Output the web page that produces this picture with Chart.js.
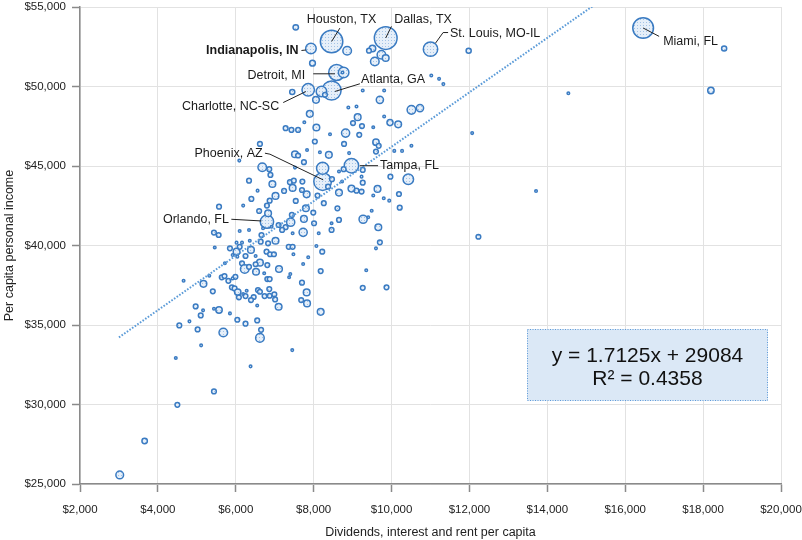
<!DOCTYPE html>
<html><head><meta charset="utf-8">
<script src="https://cdn.jsdelivr.net/npm/chart.js@4.4.1/dist/chart.umd.min.js"></script>
<style>html,body{margin:0;padding:0;background:#fff;}canvas{display:block;}</style>
</head><body>
<canvas id="c" width="802" height="540"></canvas>
<script>
const FONT = "'Liberation Sans', Arial, Helvetica, sans-serif";

// Labelled metros (first entries of the arrays below)
const metroNames = ['Houston, TX','Dallas, TX','Miami, FL','Atlanta, GA','Phoenix, AZ','Detroit, MI',
  'Tampa, FL','St. Louis, MO-IL','Orlando, FL','Charlotte, NC-SC','Indianapolis, IN'];

// Dividends, interest and rent per capita ($)
const dividendsPerCapita = [
  8460,9850,16460,8460,8230,8590,8970,11000,6800,7860,7930,
  7540,8860,7970,9510,9420,9740,9850,9570,11980,8770,
  8740,11020,11220,11330,7450,8200,8290,8060,9260,9810,
  9700,10510,10730,7900,8890,9100,9130,9810,7280,7430,
  7600,8070,7760,8820,9010,9240,9960,10170,9530,12070,
  8420,9170,8030,9600,9670,6620,8780,10510,10270,10070,
  7830,8160,7520,7600,8390,8910,9600,6090,7750,6680,
  6860,8230,8650,8770,7520,9260,6890,8470,9230,9970,
  10430,6340,7390,7490,7710,8730,9260,6940,7460,8970,
  9100,9640,6560,7240,7700,9230,8370,7820,8650,9530,
  10190,7020,8100,6400,6870,7540,9800,9940,8260,5570,
  6190,6800,7800,8610,10210,6600,7990,6830,9490,7440,
  9400,9270,8650,7750,7410,8010,8460,7100,9660,7280,
  7190,8460,6700,6920,6100,6340,7730,5440,5560,6660,
  7460,8130,12230,7020,6360,6020,6830,9700,5460,5850,
  8070,9600,6020,6100,6160,6390,6640,7360,7460,6040,
  5920,6250,6510,6790,6880,6980,7480,7860,8220,6620,
  6160,6510,5720,7730,6810,6230,6340,6520,7110,7400,
  8180,9350,6730,5320,5640,5710,5990,5920,5810,6810,
  6870,7370,4660,5170,7700,9260,9870,5900,5970,6050,
  6280,6570,6620,6860,5410,7820,6190,6250,6080,6740,
  6870,6990,6460,6390,7010,7680,7830,7100,6550,4970,
  5160,5440,5570,5850,5100,8180,4810,6040,6550,6250,
  4550,5020,6650,5680,6620,5110,7450,4460,6380,5440,
  4500,3660,3020,13710,14540,18200,18540
];

// Per capita personal income ($)
const incomePerCapita = [
  52830,53050,53680,49750,44020,50880,45020,52350,41500,49790,52390,
  53720,52250,51470,52390,52250,52000,51790,51570,52250,50880,
  50880,50690,50480,50150,49650,49690,49480,49160,49750,49750,
  49160,48530,48640,48280,48680,48740,48070,48110,47380,47270,
  47270,47420,47750,47070,47700,47510,47730,47620,47440,47070,
  47000,46960,46540,46500,46270,46390,46390,46270,45950,45950,
  46010,45870,45740,45660,45700,45810,45910,45340,45240,44920,
  44800,44860,44650,44800,44900,44750,44440,44170,44330,44330,
  44170,44080,43980,44080,44020,44020,43950,43870,43620,43580,
  43450,43560,43450,43430,43490,43390,43700,43220,43330,43140,
  43240,43120,43140,42930,42820,42800,42970,42820,42660,42440,
  42510,42510,42340,42340,42380,42170,42070,42030,42190,41920,
  41780,41650,41610,41670,41460,41400,41400,41290,41150,41150,
  40980,40980,41080,41180,40910,40980,40830,40810,40660,40660,
  40770,40770,40550,40300,40300,40180,40140,40200,39870,39820,
  39970,39820,39610,39920,40180,39720,40240,39920,39920,39300,
  39400,39340,39340,39610,39450,39450,39450,39260,39610,38920,
  38880,38820,38880,38840,38770,38520,38660,38350,38520,38210,
  38390,38440,38250,38100,38000,38080,38030,37930,37780,37890,
  37890,38000,37780,37590,37660,37340,37370,37370,37300,37070,
  37150,37200,37090,37260,37120,37050,36950,36820,36740,36820,
  36840,36930,36760,36570,36610,36570,36360,36150,36230,36170,
  35920,36020,35940,35730,35600,35830,35230,35330,35290,35080,
  34970,34720,34700,34530,34190,33720,33420,32920,32400,30820,
  29980,27710,25570,43430,49580,49750,52390
];

// Population (millions) - bubble size
const populationMillions = [
  6.8,7.0,5.8,4.9,4.2,3.4,2.8,2.8,2.4,2.1,1.5,
  0.4,1.0,0.45,0.57,0.3,1.0,0.6,1.0,0.35,1.5,
  0.09,0.09,0.09,0.09,0.35,1.5,0.3,0.6,0.09,0.09,
  0.7,1.0,0.7,0.6,0.09,0.09,0.6,0.09,0.3,0.3,
  0.3,0.6,0.09,0.9,0.3,0.3,0.5,0.6,0.09,0.09,
  0.09,0.3,0.3,0.55,0.3,0.3,0.3,0.09,0.09,0.09,
  0.09,0.09,0.6,0.3,0.6,0.09,0.3,0.09,0.3,1.0,
  0.3,2.0,0.09,0.3,0.09,0.3,0.3,0.3,0.09,0.3,
  1.5,0.3,0.3,0.3,0.3,0.09,0.3,0.6,0.6,0.6,
  0.3,0.6,0.09,0.3,0.3,0.3,0.3,0.6,0.6,0.09,
  0.3,0.6,0.3,0.3,0.3,0.3,0.09,0.09,0.3,0.3,
  0.09,0.3,0.6,0.3,0.3,0.3,0.3,0.6,0.09,0.3,
  0.09,0.9,0.3,0.6,0.9,0.3,0.09,0.3,0.6,0.3,
  0.3,0.3,0.09,0.09,0.09,0.09,0.9,0.3,0.3,0.3,
  0.09,0.09,0.3,0.6,0.09,0.09,0.3,0.3,0.09,0.3,
  0.09,0.09,0.6,0.3,0.09,0.6,0.3,0.3,0.3,0.09,
  0.09,0.3,0.09,0.3,0.3,0.3,0.09,0.09,0.3,0.6,
  0.3,0.3,0.09,0.09,0.3,1.0,0.3,0.6,0.6,0.09,
  0.3,0.09,0.09,0.09,0.3,0.3,0.3,0.09,0.3,0.3,
  0.3,0.09,0.09,0.6,0.3,0.3,0.3,0.3,0.3,0.55,
  0.09,0.3,0.3,0.3,0.3,0.6,0.09,0.3,0.3,0.3,
  0.3,0.3,0.3,0.3,0.3,0.3,0.6,0.6,0.09,0.3,
  0.09,0.09,0.55,0.09,0.3,0.6,0.09,0.3,0.3,0.3,
  0.3,0.3,0.3,1.0,1.0,0.09,0.09,0.09,0.09,0.3,
  0.3,0.4,0.8,0.09,0.09,0.55,0.35
];

// Axis tick values
const xTickValues = [2000,4000,6000,8000,10000,12000,14000,16000,18000,20000];
const yTickValues = [25000,30000,35000,40000,45000,50000,55000];

// Linear trend shown in the chart
const trendSlope = 1.7125;
const trendIntercept = 29084;
const trendR2 = 0.4358;
const trendXRange = [3000, 15200];

// ---------- styling / build ----------
const BLUE = '#3a7bc2';
function makePattern() {
  const c = document.createElement('canvas'); c.width = 3; c.height = 3;
  const g = c.getContext('2d');
  g.fillStyle = '#e6eff9'; g.fillRect(0,0,3,3);
  g.fillStyle = '#a3c3e6'; g.fillRect(1,1,1,1);
  return document.getElementById('c').getContext('2d').createPattern(c,'repeat');
}
const pattern = makePattern();

const bubblePoints = dividendsPerCapita.map((x,i)=>({x:x, y:incomePerCapita[i], r:4.3*Math.sqrt(populationMillions[i])}));
const trendPoints = trendXRange.map(x=>({x:x, y:trendSlope*x+trendIntercept}));

// Label layout for the named metros (offsets from bubble centre, px)
const labelLayout = {
  'Houston, TX':      {line:[[0,0],[8.3,-13.4]], text:[10,-21.5], align:'center'},
  'Dallas, TX':       {line:[[0,0],[5.7,-11.6]], text:[8.5,-18.3], align:'left'},
  'St. Louis, MO-IL': {line:[[5,-6],[12.6,-16.6],[17.6,-16.6]], text:[19.5,-16], align:'left'},
  'Indianapolis, IN': {line:[[-5,1.5],[-9.5,2]], text:[-12.5,2], align:'right', bold:true},
  'Detroit, MI':      {line:[[-23.4,1.3],[-1.7,1.3]], text:[-31.5,3], align:'right'},
  'Atlanta, GA':      {line:[[3.3,1],[28.3,-6.7]], text:[29.5,-10.7], align:'left'},
  'Charlotte, NC-SC': {line:[[-2.3,1.7],[-25,12.7]], text:[-29,16.7], align:'right'},
  'Phoenix, AZ':      {line:[[0.6,-1.7],[-52.7,-27.4],[-57.7,-28.4]], text:[-60,-27.7], align:'right'},
  'Tampa, FL':        {line:[[8.3,0],[26.6,0]], text:[28.5,0], align:'left'},
  'Orlando, FL':      {line:[[-5.6,-0.7],[-35.6,-2.4]], text:[-38,-1.7], align:'right'},
  'Miami, FL':        {line:[[0,0],[16,8.4]], text:[20,13.4], align:'left'}
};

const annotate = {
  id:'annotate',
  afterDatasetsDraw(chart){
    const {ctx, scales:{x,y}, chartArea:ca} = chart;
    ctx.save();
    // regression box
    const bx = ca.right - 254, by = ca.top + 322, bw = 241, bh = 72;
    ctx.fillStyle = '#dbe8f6';
    ctx.fillRect(bx,by,bw,bh);
    ctx.setLineDash([1,1.5]);
    ctx.strokeStyle = '#5f9bd8'; ctx.lineWidth = 1;
    ctx.strokeRect(bx+0.5,by+0.5,bw-1,bh-1);
    ctx.setLineDash([]);
    ctx.fillStyle = '#111';
    ctx.font = '21px ' + FONT;
    ctx.textAlign = 'center'; ctx.textBaseline = 'middle';
    ctx.fillText('y = ' + trendSlope + 'x + ' + trendIntercept, bx+bw/2, by+27);
    ctx.fillText('R\u00B2 = ' + trendR2, bx+bw/2, by+50);
    // metro labels
    metroNames.forEach((name,i)=>{
      const L = labelLayout[name]; if(!L) return;
      const px = x.getPixelForValue(dividendsPerCapita[i]);
      const py = y.getPixelForValue(incomePerCapita[i]);
      ctx.strokeStyle = '#222'; ctx.lineWidth = 1;
      ctx.beginPath();
      L.line.forEach((p,k)=>{ if(k===0) ctx.moveTo(px+p[0],py+p[1]); else ctx.lineTo(px+p[0],py+p[1]); });
      ctx.stroke();
      ctx.font = (L.bold ? 'bold ' : '') + '12.5px ' + FONT;
      ctx.fillStyle = '#1a1a1a';
      ctx.textAlign = L.align; ctx.textBaseline = 'middle';
      ctx.fillText(name, px+L.text[0], py+L.text[1]);
    });
    ctx.restore();
  }
};

const money = v => '$' + Number(v).toLocaleString('en-US');
const noPad = () => ({left:0, top:0, right:0, bottom:0});

new Chart(document.getElementById('c'), {
  type:'bubble',
  data:{
    datasets:[
      {type:'line', data:trendPoints, borderColor:'#5b9bd8', borderWidth:2, borderDash:[1.6,1.6],
       pointRadius:0, fill:false, order:0},
      {type:'bubble', data:bubblePoints, backgroundColor:pattern, borderColor:BLUE, borderWidth:1.5,
       order:1, clip:false}
    ]
  },
  options:{
    responsive:false, animation:false, events:[],
    layout:{autoPadding:false, padding:{top:7,right:21,left:0,bottom:0}},
    plugins:{legend:{display:false}, tooltip:{enabled:false}},
    scales:{
      x:{type:'linear', min:2000, max:20000,
        afterBuildTicks: s => { s.ticks = xTickValues.map(v=>({value:v})); },
        afterFit: s => { s.height = 56; s.paddingLeft = 0; s.paddingRight = 0; s.paddingTop = 0; s.paddingBottom = 0; s.getPadding = noPad; },
        ticks:{callback:money, color:'#222', font:{family:FONT, size:11.5}, padding:11, maxRotation:0},
        grid:{color:'#e2e2e2', lineWidth:1, tickLength:8, tickColor:'#8a8a8a', tickWidth:1.5},
        border:{color:'#8a8a8a', width:1.5},
        title:{display:true, text:'Dividends, interest and rent per capita', color:'#222',
               font:{family:FONT, size:12.5}, padding:{top:0,bottom:0}}
      },
      y:{type:'linear', min:25000, max:55000,
        afterBuildTicks: s => { s.ticks = yTickValues.map(v=>({value:v})); },
        afterFit: s => { s.width = 80; s.paddingLeft = 0; s.paddingRight = 0; s.paddingTop = 0; s.paddingBottom = 0; s.getPadding = noPad; },
        ticks:{callback:money, color:'#222', font:{family:FONT, size:11.5}, padding:6},
        grid:{color:'#e2e2e2', lineWidth:1, tickLength:8, tickColor:'#8a8a8a', tickWidth:1.5},
        border:{color:'#8a8a8a', width:1.5},
        title:{display:true, text:'Per capita personal income', color:'#222',
               font:{family:FONT, size:12.5}, padding:{top:2,bottom:0}}
      }
    }
  },
  plugins:[annotate]
});
</script>
</body></html>
